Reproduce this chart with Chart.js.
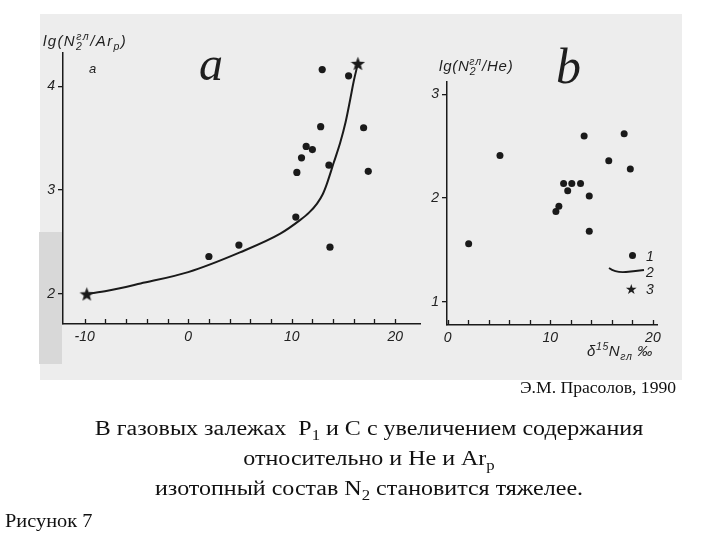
<!DOCTYPE html>
<html><head><meta charset="utf-8">
<script src="https://cdn.jsdelivr.net/npm/chart.js@4.4.0/dist/chart.umd.min.js"></script>
<style>
html,body{margin:0;padding:0;background:#fff;width:720px;height:540px;overflow:hidden;position:relative;font-family:"Liberation Serif",serif;}
#scan{position:absolute;left:40px;top:14px;width:642px;height:366px;background:#ededed;}
#band{position:absolute;left:39px;top:232px;width:23px;height:132px;background:#d8d8d8;}
canvas{position:absolute;left:0;top:0;}
.t{position:absolute;white-space:nowrap;color:#1e1e1e;line-height:1;}
.hand{font-family:"Liberation Sans",sans-serif;font-style:italic;}
.big{font-family:"Liberation Serif",serif;font-style:italic;}
.cap{font-family:"Liberation Serif",serif;font-size:20px;color:#111;text-align:center;width:640px;left:49px;transform:scaleX(1.2);transform-origin:320px 0;}
sub,sup{font-size:70%;line-height:0;}
</style></head>
<body>
<div id="scan"></div>
<div id="band"></div>
<canvas id="ca" width="720" height="540"></canvas>
<canvas id="cb" width="720" height="540"></canvas>

<div class="t hand" style="left:43px;top:33px;font-size:15px;letter-spacing:1.4px;">lg(N<sub>2</sub><sup style="margin-left:-7px">гл</sup>/Ar<sub>p</sub>)</div>
<div class="t hand" style="left:89px;top:62px;font-size:13px;">a</div>
<div class="t big" style="left:199px;top:40px;font-size:48px;">a</div>
<div class="t hand" style="left:439px;top:58px;font-size:15px;letter-spacing:0.8px;">lg(N<sub>2</sub><sup style="margin-left:-7px">гл</sup>/He)</div>
<div class="t big" style="left:556px;top:41px;font-size:50px;">b</div>
<div class="t hand" style="left:587px;top:343px;font-size:15px;letter-spacing:0.6px;">δ<sup>15</sup>N<sub>гл</sub> ‰</div>

<div style="position:absolute;left:629px;top:252px;width:7px;height:7px;border-radius:50%;background:#1a1a1a;"></div>
<div class="t hand" style="left:646px;top:249px;font-size:14px;">1</div>
<svg style="position:absolute;left:608px;top:265px;" width="38" height="10"><path d="M1 3 Q8 8 18 7 T36 5" stroke="#1a1a1a" stroke-width="1.8" fill="none"/></svg>
<div class="t hand" style="left:646px;top:265px;font-size:14px;">2</div>
<div class="t" style="left:625px;top:282px;font-size:14px;font-family:'DejaVu Sans';">★</div>
<div class="t hand" style="left:646px;top:282px;font-size:14px;">3</div>

<div class="t" style="left:520px;top:380px;font-size:16px;font-family:'Liberation Serif';color:#111;transform:scaleX(1.1);transform-origin:0 0;">Э.М. Прасолов, 1990</div>
<div class="t cap" style="top:418px;">В газовых залежах&nbsp; P<sub>1</sub> и С с увеличением содержания</div>
<div class="t cap" style="top:448px;">относительно и Не и Ar<sub>p</sub></div>
<div class="t cap" style="top:478px;">изотопный состав N<sub>2</sub> становится тяжелее.</div>
<div class="t" style="left:5px;top:512px;font-size:18px;font-family:'Liberation Serif';color:#111;transform:scaleX(1.13);transform-origin:0 0;">Рисунок 7</div>

<script>
// ---- Panel a data ----
const aDotX = [2.0, 4.9, 10.4, 10.5, 10.95, 11.4, 12.0, 12.8, 13.6, 13.7, 12.95, 15.5, 16.95, 17.4];
const aDotY = [2.36, 2.47, 2.74, 3.17, 3.31, 3.42, 3.39, 3.61, 3.24, 2.45, 4.16, 4.10, 3.60, 3.18];
const aStarX = [-9.8, 16.4];
const aStarY = [2.0, 4.22];
const aCurveX = [-9.8, -7.8, -4.6, 0, 5, 8.9, 10.8, 11.7, 12.45, 13.0, 13.4, 14.05, 14.7, 15.2, 15.65, 16.0, 16.4];
const aCurveY = [2.0, 2.03, 2.10, 2.21, 2.40, 2.58, 2.71, 2.785, 2.87, 2.96, 3.06, 3.26, 3.46, 3.65, 3.87, 4.05, 4.22];
const aXTicks = [-10, -8, -6, -4, -2, 0, 2, 4, 6, 8, 10, 12, 14, 16, 18, 20];
const aXLabels = [-10, 0, 10, 20];
const aYTicks = [2, 3, 4];

// ---- Panel b data ----
const bDotX = [2.05, 5.1, 10.55, 10.84, 11.3, 11.7, 12.1, 12.95, 13.3, 13.8, 13.8, 15.7, 17.2, 17.8];
const bDotY = [1.56, 2.41, 1.87, 1.92, 2.14, 2.07, 2.14, 2.14, 2.60, 2.02, 1.68, 2.36, 2.62, 2.28];
const bXTicks = [0, 2, 4, 6, 8, 10, 12, 14, 16, 18, 20];
const bXLabels = [0, 10, 20];
const bYTicks = [1, 2, 3];

const INK = '#1a1a1a';
const pts = (xs, ys) => xs.map((x, i) => ({x, y: ys[i]}));

function starCanvas(size) {
  const c = document.createElement('canvas');
  c.width = c.height = size;
  const g = c.getContext('2d');
  g.fillStyle = INK;
  g.beginPath();
  const cx = size / 2, cy = size / 2 + 0.8, R = size / 2, r = R * 0.42;
  for (let i = 0; i < 10; i++) {
    const a = -Math.PI / 2 + i * Math.PI / 5;
    const rad = i % 2 ? r : R;
    g.lineTo(cx + rad * Math.cos(a), cy + rad * Math.sin(a));
  }
  g.closePath(); g.fill();
  return c;
}
const starImg = starCanvas(15);

const inwardTicks = {
  id: 'inwardTicks',
  afterDraw(chart) {
    const s = chart.scales.x, ctx = chart.ctx;
    ctx.save(); ctx.strokeStyle = INK; ctx.lineWidth = 1.3;
    s.ticks.forEach(t => {
      const x = Math.round(s.getPixelForValue(t.value)) + 0.5;
      ctx.beginPath(); ctx.moveTo(x, s.top); ctx.lineTo(x, s.top - 5); ctx.stroke();
    });
    ctx.restore();
  }
};

const tickFont = {family: 'Liberation Sans', style: 'italic', size: 14};

function makeChart(id, cfg) {
  return new Chart(document.getElementById(id), {
    type: 'scatter',
    data: {datasets: cfg.datasets},
    options: {
      responsive: false, animation: false, events: [],
      layout: {padding: cfg.padding},
      plugins: {legend: {display: false}, tooltip: {enabled: false}},
      scales: {
        x: {
          type: 'linear', min: cfg.xmin, max: cfg.xmax,
          afterBuildTicks: s => { s.ticks = cfg.xTicks.map(v => ({value: v})); },
          afterFit: s => { s.height = 30; },
          grid: {drawOnChartArea: false, drawTicks: false},
          border: {display: true, color: INK, width: 1.5},
          ticks: {padding: 5, color: '#222', font: tickFont, maxRotation: 0, autoSkip: false,
            callback: v => cfg.xLabels.includes(v) ? String(v) : ''}
        },
        y: {
          type: 'linear', min: cfg.ymin, max: cfg.ymax,
          afterBuildTicks: s => { s.ticks = cfg.yTicks.map(v => ({value: v})); },
          afterFit: s => { s.width = 30; },
          grid: {drawOnChartArea: false, drawTicks: true, tickLength: 5, color: INK, lineWidth: 1.3},
          border: {display: true, color: INK, width: 1.5},
          ticks: {padding: 3, color: '#222', font: tickFont}
        }
      }
    },
    plugins: [inwardTicks]
  });
}

makeChart('ca', {
  padding: {left: 33, right: 300, top: 53, bottom: 186},
  xmin: -12.1, xmax: 22.4, ymin: 1.71, ymax: 4.32,
  xTicks: aXTicks, xLabels: aXLabels, yTicks: aYTicks,
  datasets: [
    {type: 'line', data: pts(aCurveX, aCurveY), borderColor: INK, borderWidth: 2, pointRadius: 0,
     cubicInterpolationMode: 'monotone', fill: false},
    {type: 'scatter', data: pts(aDotX, aDotY), pointRadius: 3.6, backgroundColor: INK, borderWidth: 0},
    {type: 'scatter', data: pts(aStarX, aStarY), pointStyle: starImg, pointRadius: 7}
  ]
});

makeChart('cb', {
  padding: {left: 417, right: 63, top: 82, bottom: 185},
  xmin: -0.06, xmax: 20.4, ymin: 0.775, ymax: 3.12,
  xTicks: bXTicks, xLabels: bXLabels, yTicks: bYTicks,
  datasets: [
    {type: 'scatter', data: pts(bDotX, bDotY), pointRadius: 3.5, backgroundColor: INK, borderWidth: 0}
  ]
});
</script>
</body></html>
